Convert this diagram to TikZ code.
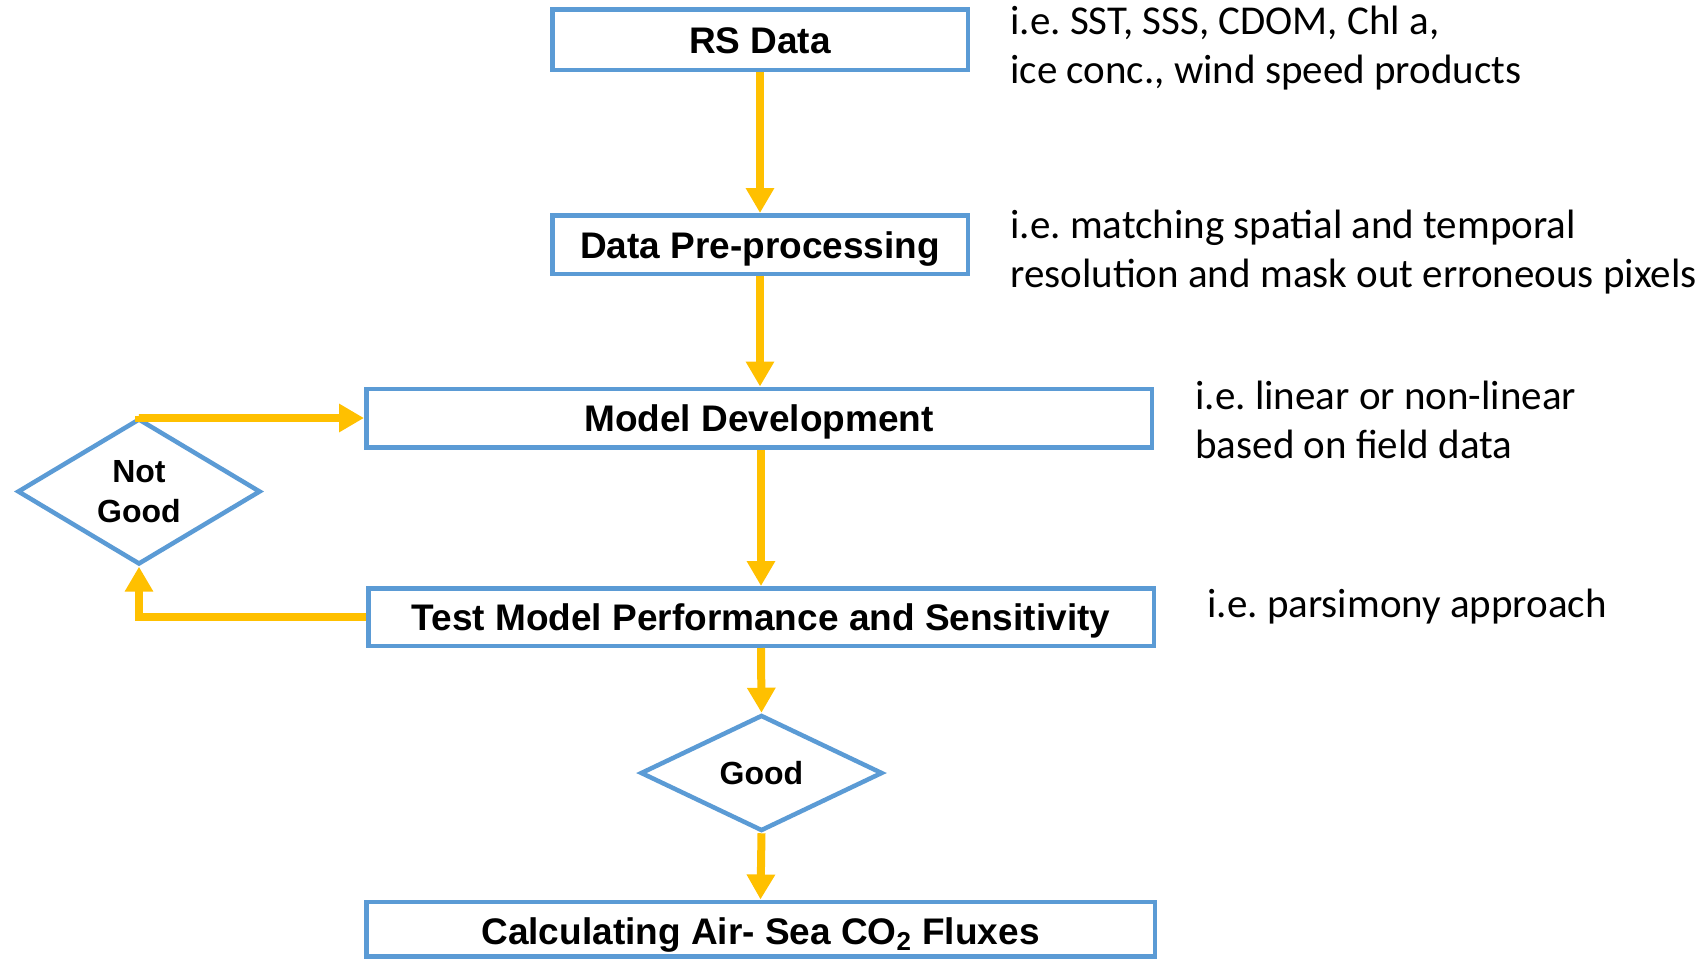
\documentclass[tikz,border=0pt]{standalone}
\usepackage{fontspec}
\setmainfont{Liberation Sans}
\newfontfamily\annfont{Carlito}
\usetikzlibrary{arrows.meta,shapes.geometric}
\definecolor{boxblue}{HTML}{5B9BD5}
\definecolor{arrowyellow}{HTML}{FFC000}
\frenchspacing
\tikzset{
  stepbox/.style={draw=boxblue, line width=2.25pt, fill=white, rectangle, inner sep=0pt,
    font=\fontsize{18.5}{22}\selectfont\bfseries, text height=13.8pt, text depth=0pt},
  decide/.style={draw=boxblue, line width=2.25pt, fill=white, diamond, inner sep=0pt,
    font=\fontsize{16}{20}\selectfont\bfseries, align=center},
  flow/.style={draw=arrowyellow, line width=4pt, -{Triangle[width=13.5pt,length=12.5pt]}},
  note/.style={anchor=west, inner sep=0pt, align=left, font=\annfont\fontsize{20.5}{24.5}\selectfont}
}
\begin{document}
\begin{tikzpicture}[x=0.5pt,y=-0.5pt]
\useasboundingbox (0,0) rectangle (1704,960);
\fill[white] (0,0) rectangle (1704,960);

\node[stepbox, minimum width=207.75pt, minimum height=30.25pt] (rs) at (760,39.5) {RS Data};
\node[stepbox, minimum width=207.75pt, minimum height=29.25pt] (dp) at (760,244.5) {Data Pre-processing};
\node[stepbox, minimum width=392.75pt, minimum height=29.25pt] (md) at (759,418) {Model Development};
\node[stepbox, minimum width=392.75pt, minimum height=28.75pt] (tm) at (761,617) {Test Model Performance and Sensitivity};
\node[decide, minimum width=121pt, minimum height=58pt] (good) at (761.5,773) {Good};
\node[decide, minimum width=121.5pt, minimum height=60pt] (ng) at (139,491.5) {Not\\Good};
\node[stepbox, text height=15.6pt, minimum width=394.25pt, minimum height=27.25pt] (calc) at (760.5,929) {Calculating Air- Sea CO\textsubscript{2} Fluxes};

\draw[flow] (rs.south) -- (dp.north);
\draw[flow] (dp.south) -- (dp.south |- md.north);
\draw[flow] (md.south -| tm.north) -- (tm.north);
\draw[flow] (tm.south) -- (good.north);
\draw[flow] (good.south) -- (calc.north);
\draw[flow] (ng.north) |- (md.west);
\draw[flow] (tm.west) -| (ng.south);

\node[note] (n1) at (1010,48) {i.e. SST, SSS, CDOM, Chl a,\\ice conc., wind speed products};
\node[note] (n2) at (1010,252) {i.e. matching spatial and temporal\\resolution and mask out erroneous pixels};
\node[note] (n3) at (1195,420) {i.e. linear or non-linear\\based on field data};
\node[note] (n4) at (1207,606.5) {i.e. parsimony approach};
\end{tikzpicture}
\end{document}
